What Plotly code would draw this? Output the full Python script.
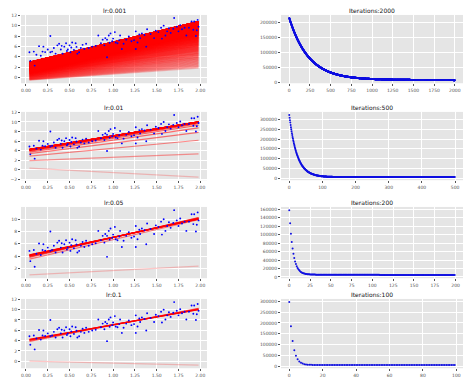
import numpy as np
import plotly.graph_objects as go

# ---------------- data ----------------
x_data = [0.04, 0.05, 0.09, 0.10, 0.15, 0.19, 0.20, 0.25, 0.28, 0.28,
          0.32, 0.36, 0.38, 0.40, 0.42, 0.44, 0.46, 0.48, 0.50, 0.51,
          0.53, 0.55, 0.57, 0.59, 0.61, 0.63, 0.69, 0.72, 0.76, 0.83,
          0.88, 0.90, 0.93, 0.93, 0.95, 0.97, 0.99, 1.02, 1.03, 1.05,
          1.08, 1.10, 1.12, 1.21, 1.26, 1.26, 1.28, 1.31, 1.33, 1.38,
          1.39, 1.47, 1.52, 1.55, 1.56, 1.58, 1.60, 1.64, 1.66, 1.70,
          1.73, 1.75, 1.79, 1.84, 1.87, 1.90, 1.92, 1.93, 1.95, 1.96,
          1.97, 1.98, 0.12, 0.17, 0.22, 0.30, 0.34, 0.41, 0.47, 0.52,
          0.58, 0.65, 0.67, 0.80, 0.86, 0.91, 0.96, 1.00, 1.07, 1.15,
          1.18, 1.24, 1.30, 1.36, 1.43, 1.49, 1.62, 1.69, 1.77, 1.82]
y_data = [4.86, 3.20, 5.00, 2.30, 6.05, 5.00, 5.95, 5.40, 8.00, 4.86,
          5.70, 6.20, 6.50, 5.40, 4.60, 5.95, 6.60, 5.40, 6.20, 4.86,
          6.75, 5.30, 6.60, 4.60, 4.86, 5.70, 6.50, 5.70, 5.95, 8.10,
          7.30, 6.20, 3.90, 7.30, 8.10, 8.50, 7.00, 8.75, 6.75, 6.60,
          8.10, 5.50, 6.50, 7.00, 8.90, 5.50, 6.75, 7.60, 8.50, 5.95,
          9.30, 7.60, 8.75, 9.60, 7.50, 10.00, 8.10, 9.50, 8.60, 11.46,
          9.80, 8.90, 9.30, 8.10, 9.60, 10.80, 9.20, 10.80, 8.00, 9.10,
          11.10, 9.80, 4.40, 4.20, 4.90, 5.00, 4.60, 6.10, 5.10, 5.80,
          5.90, 6.30, 5.50, 6.10, 6.60, 7.60, 6.70, 7.50, 7.20, 7.30,
          7.90, 7.20, 8.30, 8.20, 8.40, 9.00, 8.90, 9.40, 10.10, 9.60]

learning_rates = [0.001, 0.01, 0.05, 0.1]
n_iterations = [2000, 500, 200, 100]
theta_init = [(-0.55, 1.2), (0.36, -0.98), (0.94, 0.74), (0.05, -0.4)]
line_every = [8, 25, 25, 25]
lr_titles = ["lr:0.001", "lr:0.01", "lr:0.05", "lr:0.1"]
it_titles = ["Iterations:2000", "Iterations:500", "Iterations:200", "Iterations:100"]
cost_dticks = [50000, 50000, 20000, 50000]
iter_dticks = [250, 100, 25, 20]

# ---------------- layout geometry ----------------
W, H = 474, 385
left_px = (13, 199)
right_px = (273, 455)
rows_px = [(5, 74), (103, 172), (199, 271), (292, 362)]

FONT = "DejaVu Sans"
BG = "#E5E5E5"

x = np.array(x_data)
y = np.array(y_data)
m = len(x)
X = np.c_[np.ones(m), x]

fig = go.Figure()
layout = dict(width=W, height=H, margin=dict(l=0, r=0, t=0, b=0),
              paper_bgcolor="white", plot_bgcolor=BG, showlegend=False,
              font=dict(family=FONT, size=4.5, color="#555555"))
annotations = []


def axis_common():
    return dict(showgrid=True, gridcolor="white", gridwidth=0.8, zeroline=False,
                ticks="outside", ticklen=2, tickwidth=0.6, tickcolor="#555555",
                tickfont=dict(size=4.5, color="#555555", family=FONT),
                showline=False)


xmin, xmax = x.min(), x.max()
xpad = 0.05 * (xmax - xmin)

for r in range(4):
    lr = learning_rates[r]
    n = n_iterations[r]
    every = line_every[r]
    theta = np.array(theta_init[r], dtype=float)
    costs = []
    thetas = []
    for i in range(n):
        res = X @ theta - y
        costs.append(0.5 * m * np.sum(res ** 2))
        if i % every == 0:
            thetas.append(theta.copy())
        theta = theta - lr / m * (X.T @ res)
    thetas.append(theta.copy())

    li = 2 * r + 1
    ri = 2 * r + 2
    lx, ly = f"x{li}", f"y{li}"
    rx, ry = f"x{ri}", f"y{ri}"

    # regression lines
    xs = np.array([xmin, xmax])
    K = len(thetas)
    all_y = list(y)
    for k, th in enumerate(thetas):
        ys = th[0] + th[1] * xs
        all_y += list(ys)
        a = 0.22 + 0.78 * (k / (K - 1)) ** 0.5
        fig.add_trace(go.Scatter(x=xs, y=ys, mode="lines", xaxis=lx, yaxis=ly,
                                 line=dict(color=f"rgba(255,0,0,{a:.3f})", width=1.2),
                                 hoverinfo="skip"))
    fig.add_trace(go.Scatter(x=x, y=y, mode="markers", xaxis=lx, yaxis=ly,
                             marker=dict(color="blue", size=1.9, line=dict(width=0))))

    # cost curve
    its = np.arange(n)
    fig.add_trace(go.Scatter(x=its, y=costs, mode="markers", xaxis=rx, yaxis=ry,
                             marker=dict(color="#1010e0", size=2.0, line=dict(width=0))))

    y0, y1 = rows_px[r]
    ydom = [1 - y1 / H, 1 - y0 / H]
    ymn, ymx = min(all_y), max(all_y)
    ypad = 0.05 * (ymx - ymn)
    cmn, cmx = min(costs), max(costs)
    cpad = 0.05 * (cmx - cmn)
    ipad = 0.05 * (n - 1)

    ax = axis_common()
    ax.update(domain=[left_px[0] / W, left_px[1] / W], anchor=ly,
              range=[xmin - xpad, xmax + xpad], dtick=0.25, tick0=0, tickformat=".2f")
    layout[f"xaxis{li}"] = ax
    ay = axis_common()
    ay.update(domain=ydom, anchor=lx, range=[ymn - ypad, ymx + ypad], dtick=2, tick0=0,
              tickformat="d")
    layout[f"yaxis{li}"] = ay

    bx = axis_common()
    bx.update(domain=[right_px[0] / W, right_px[1] / W], anchor=ry,
              range=[-ipad, n - 1 + ipad], dtick=iter_dticks[r], tick0=0, tickformat="d")
    layout[f"xaxis{ri}"] = bx
    by = axis_common()
    by.update(domain=ydom, anchor=rx, range=[cmn - cpad, cmx + cpad],
              dtick=cost_dticks[r], tick0=0, tickformat="d")
    layout[f"yaxis{ri}"] = by

    annotations.append(dict(text=lr_titles[r], xref="paper", yref="paper",
                            x=(left_px[0] + left_px[1]) / 2 / W, y=ydom[1],
                            xanchor="center", yanchor="bottom", showarrow=False,
                            yshift=-1, font=dict(size=6, color="#111111", family=FONT)))
    annotations.append(dict(text=it_titles[r], xref="paper", yref="paper",
                            x=(right_px[0] + right_px[1]) / 2 / W, y=ydom[1],
                            xanchor="center", yanchor="bottom", showarrow=False,
                            yshift=-1, font=dict(size=6, color="#111111", family=FONT)))

layout["annotations"] = annotations
fig.update_layout(**layout)
fig.write_html("out.html")
